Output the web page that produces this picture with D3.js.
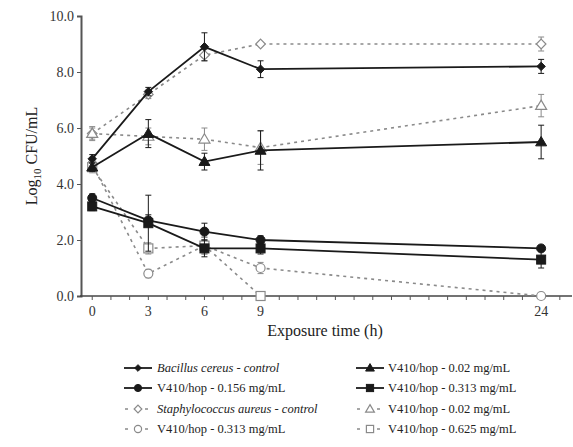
<!DOCTYPE html>
<html><head><meta charset="utf-8">
<script src="https://cdn.jsdelivr.net/npm/d3@7"></script>
<style>body{margin:0;background:#fff}svg{display:block}svg text{font-family:"Liberation Serif","Times New Roman",serif !important}</style>
</head><body><svg id="c" width="573" height="447" font-family="Liberation Serif, serif"></svg>
<script>
const times = [0, 3, 6, 9, 24];
const xTickLabels = [0, 3, 6, 9, 24];
const yTickLabels = [0, 2, 4, 6, 8, 10];

const bcControl = [4.9, 7.3, 8.9, 8.1, 8.2];
const bcControlErr = [0.15, 0.15, 0.5, 0.3, 0.25];
const bc002 = [4.6, 5.8, 4.8, 5.2, 5.5];
const bc002Err = [0.15, 0.5, 0.3, 0.7, 0.6];
const bc0156 = [3.5, 2.7, 2.3, 2.0, 1.7];
const bc0156Err = [0.15, 0.2, 0.3, 0.15, 0.1];
const bc0313 = [3.2, 2.6, 1.7, 1.7, 1.3];
const bc0313Err = [0.15, 1.0, 0.3, 0.2, 0.3];
const saControl = [5.8, 7.2, 8.6, 9.0, 9.0];
const saControlErr = [0.25, 0.15, 0.2, 0.1, 0.25];
const sa002 = [5.8, 5.7, 5.6, 5.3, 6.8];
const sa002Err = [0.2, 0.3, 0.4, 0.6, 0.4];
const sa0313 = [4.7, 0.8, 1.8, 1.0, 0.0];
const sa0313Err = [0.2, 0.15, 0.3, 0.2, 0.1];
const sa0625 = [4.6, 1.7, 1.8, 0.0, null];
const sa0625Err = [0.2, 0.2, 0.3, 0.1, 0];

const seriesNames = [
  ["Bacillus cereus", " - control"],
  ["", "V410/hop - 0.02 mg/mL"],
  ["", "V410/hop - 0.156 mg/mL"],
  ["", "V410/hop - 0.313 mg/mL"],
  ["Staphylococcus aureus", " - control"],
  ["", "V410/hop - 0.02 mg/mL"],
  ["", "V410/hop - 0.313 mg/mL"],
  ["", "V410/hop - 0.625 mg/mL"]
];

const series = [
  {v: bcControl, e: bcControlErr, sym: "diamondS", solid: true},
  {v: bc002, e: bc002Err, sym: "triangle", solid: true},
  {v: bc0156, e: bc0156Err, sym: "circle", solid: true},
  {v: bc0313, e: bc0313Err, sym: "square", solid: true},
  {v: saControl, e: saControlErr, sym: "diamond", solid: false},
  {v: sa002, e: sa002Err, sym: "triangle", solid: false},
  {v: sa0313, e: sa0313Err, sym: "circle", solid: false},
  {v: sa0625, e: sa0625Err, sym: "square", solid: false}
];

const FF = "Liberation Serif, Times New Roman, serif";
const svg = d3.select("#c");
const x = d3.scaleLinear().domain([-0.6, 25.65]).range([81, 572]);
const y = d3.scaleLinear().domain([0, 10]).range([296, 16]);

const dark = "#1a1a1a", grey = "#8a8a8a";

// axes
const yAxis = d3.axisLeft(y).tickValues(yTickLabels).tickFormat(d3.format(".1f")).tickSize(4).tickPadding(3);
const gy = svg.append("g").attr("transform", "translate(81,0)").call(yAxis).attr("font-family", FF);
gy.select(".domain").attr("stroke", "#555").attr("stroke-width", 2);
gy.selectAll(".tick line").attr("stroke", "#555");
gy.selectAll("text").attr("font-size", 14).attr("fill", "#333").attr("font-family", FF);

const gx = svg.append("g").attr("transform", "translate(0,296)");
gx.append("line").attr("x1", 80).attr("x2", 572).attr("y1", 0).attr("y2", 0).attr("stroke", "#444").attr("stroke-width", 1.6);
gx.selectAll("line.mt").data(d3.range(0, 26)).enter().append("line")
  .attr("x1", d => x(d)).attr("x2", d => x(d)).attr("y1", 0).attr("y2", 4).attr("stroke", "#555");
gx.selectAll("text").data(xTickLabels).enter().append("text")
  .attr("x", d => x(d)).attr("y", 20).attr("text-anchor", "middle").attr("font-size", 14).attr("font-family", FF).attr("fill", "#333").text(d => d);

// axis titles
svg.append("text").attr("x", 325).attr("y", 336).attr("text-anchor", "middle").attr("font-size", 16).attr("font-family", FF).attr("fill", "#222").text("Exposure time (h)");
const yl = svg.append("text").attr("transform", "translate(37,156) rotate(-90)").attr("text-anchor", "middle").attr("font-size", 16).attr("font-family", FF).attr("fill", "#222");
yl.append("tspan").text("Log");
yl.append("tspan").attr("font-size", 11).attr("dy", 4).text("10");
yl.append("tspan").attr("dy", -4).text(" CFU/mL");

function drawSym(g, sym, solid, cx, cy, scale) {
  const col = solid ? dark : grey;
  const fill = solid ? dark : "#fff";
  const sw = solid ? 1 : 1.2;
  const s = scale || 1;
  if (sym === "circle") {
    g.append("circle").attr("cx", cx).attr("cy", cy).attr("r", 4.5 * s).attr("fill", fill).attr("stroke", col).attr("stroke-width", sw);
  } else if (sym === "square") {
    g.append("rect").attr("x", cx - 4.5 * s).attr("y", cy - 4.5 * s).attr("width", 9 * s).attr("height", 9 * s).attr("fill", fill).attr("stroke", col).attr("stroke-width", sw);
  } else if (sym === "triangle") {
    const r = 5.5 * s;
    g.append("path").attr("d", `M${cx},${cy - r}L${cx + r},${cy + r * 0.7}L${cx - r},${cy + r * 0.7}Z`).attr("fill", fill).attr("stroke", col).attr("stroke-width", sw);
  } else if (sym === "diamond" || sym === "diamondS") {
    const r = (sym === "diamondS" ? 4.2 : 4.8) * s;
    g.append("path").attr("d", `M${cx},${cy - r}L${cx + r},${cy}L${cx},${cy + r}L${cx - r},${cy}Z`).attr("fill", fill).attr("stroke", col).attr("stroke-width", sw);
  }
}

// draw dashed series first, then solid
const order = [4, 5, 6, 7, 0, 1, 2, 3];
order.forEach(i => {
  const s = series[i];
  const col = s.solid ? dark : grey;
  const pts = times.map((t, j) => ({t, v: s.v[j], e: s.e[j]})).filter(p => p.v !== null);
  const g = svg.append("g");
  const line = d3.line().x(p => x(p.t)).y(p => y(p.v));
  g.append("path").attr("d", line(pts)).attr("fill", "none").attr("stroke", col)
    .attr("stroke-width", s.solid ? 1.8 : 1.6).attr("stroke-dasharray", s.solid ? null : "3,4");
  pts.forEach(p => {
    if (p.e > 0.12) {
      g.append("line").attr("x1", x(p.t)).attr("x2", x(p.t)).attr("y1", y(p.v - p.e)).attr("y2", y(p.v + p.e)).attr("stroke", col).attr("stroke-width", 1);
      [p.v - p.e, p.v + p.e].forEach(v => g.append("line").attr("x1", x(p.t) - 3).attr("x2", x(p.t) + 3).attr("y1", y(v)).attr("y2", y(v)).attr("stroke", col).attr("stroke-width", 1));
    }
    drawSym(g, s.sym, s.solid, x(p.t), y(p.v));
  });
});

// legend
const legRows = [368, 388, 409, 429];
const legCols = [{x0: 124, x1: 152, tx: 157}, {x0: 356, x1: 384, tx: 388}];
series.forEach((s, i) => {
  const col = legCols[i % 2];
  const ry = legRows[Math.floor(i / 2)];
  const g = svg.append("g");
  const c = s.solid ? dark : grey;
  g.append("line").attr("x1", col.x0).attr("x2", col.x1).attr("y1", ry).attr("y2", ry).attr("stroke", c)
    .attr("stroke-width", s.solid ? 1.8 : 1.4).attr("stroke-dasharray", s.solid ? null : "3,7").attr("stroke-dashoffset", -1);
  drawSym(g, s.sym, s.solid, (col.x0 + col.x1) / 2, ry, 0.8);
  const t = g.append("text").attr("x", col.tx).attr("y", ry + 4).attr("font-size", 12.5).attr("font-family", FF).attr("fill", "#222");
  const nm = seriesNames[i];
  if (nm[0]) {
    t.append("tspan").attr("font-style", "italic").text(nm[0]);
    t.append("tspan").attr("font-style", "italic").text(nm[1]);
  } else {
    t.append("tspan").text(nm[1]);
  }
});
</script></body></html>
